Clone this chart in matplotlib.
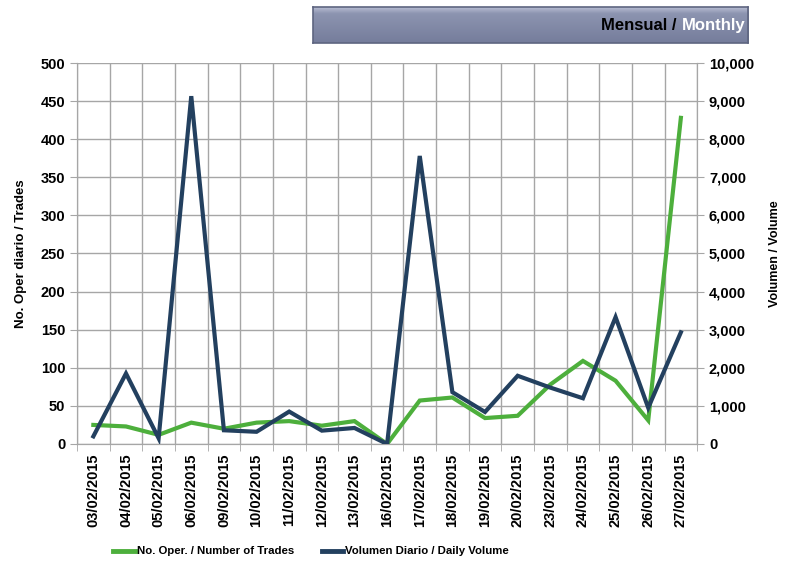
import numpy as np
import matplotlib
matplotlib.use('Agg')
import matplotlib.pyplot as plt
from matplotlib.lines import Line2D
from matplotlib.ticker import FuncFormatter, MultipleLocator

plt.rcParams['font.family'] = ['Liberation Sans', 'DejaVu Sans']

# Data
dates = ['03/02/2015', '04/02/2015', '05/02/2015', '06/02/2015', '09/02/2015',
         '10/02/2015', '11/02/2015', '12/02/2015', '13/02/2015', '16/02/2015',
         '17/02/2015', '18/02/2015', '19/02/2015', '20/02/2015', '23/02/2015',
         '24/02/2015', '25/02/2015', '26/02/2015', '27/02/2015']
trades = [25, 23, 12, 28, 20, 28, 30, 24, 30, 0,
          57, 61, 34, 37, 78, 109, 83, 31, 428]
volume = [200, 1850, 150, 9130, 360, 320, 850, 350, 420, 0,
          7560, 1360, 840, 1790, 1480, 1200, 3330, 950, 2930]
series_names = ['No. Oper. / Number of Trades', 'Volumen Diario / Daily Volume']

green = '#4DAF3C'
navy = '#23405F'
grid_col = '#A6A6A6'

fig = plt.figure(figsize=(7.86, 5.61), dpi=100)
ax = fig.add_axes([0.098, 0.2086, 0.789, 0.6791])
ax2 = ax.twinx()

x = np.arange(len(dates))
ax.plot(x, trades, color=green, lw=3, solid_joinstyle='miter', zorder=3)
ax2.plot(x, volume, color=navy, lw=3, solid_joinstyle='miter', zorder=3)

ax.set_xlim(-0.5, len(dates) - 0.5)
ax.set_ylim(0, 500)
ax2.set_ylim(0, 10000)
ax.yaxis.set_major_locator(MultipleLocator(50))
ax2.yaxis.set_major_locator(MultipleLocator(1000))
ax2.yaxis.set_major_formatter(FuncFormatter(lambda v, p: f'{int(v):,}'))

ax.set_xticks(x)
ax.set_xticklabels(dates, rotation=90, fontsize=10.5, fontweight='bold')
ax.set_xticks(np.arange(-0.5, len(dates)), minor=True)
ax.tick_params(axis='x', which='major', length=0, pad=7)
ax.tick_params(axis='x', which='minor', length=5, color=grid_col)
ax.tick_params(axis='y', length=5, color=grid_col, labelsize=10.5)
ax2.tick_params(axis='y', length=5, color=grid_col, labelsize=10.5)
for lab in ax.get_yticklabels() + ax2.get_yticklabels():
    lab.set_fontweight('bold')

ax.grid(True, which='major', axis='y', color=grid_col, lw=1)
ax.grid(True, which='minor', axis='x', color=grid_col, lw=1)
ax.set_axisbelow(True)
for a in (ax, ax2):
    for s in a.spines.values():
        s.set_color(grid_col)
    a.spines['top'].set_visible(False)

ax.set_ylabel('No. Oper diario / Trades', fontsize=9.5, fontweight='bold', labelpad=10)
ax2.set_ylabel('Volumen / Volume', fontsize=9, fontweight='bold', labelpad=11)

# Legend at the bottom, placed by hand to match the narrow font spacing
W, H = 786, 561
leg_y = 1 - 551 / H
for (hx0, hx1, tx), col, name in zip([(113, 135, 137), (322, 343, 345)],
                                     [green, navy], series_names):
    fig.add_artist(Line2D([hx0 / W, hx1 / W], [leg_y, leg_y], color=col, lw=3.5,
                          transform=fig.transFigure))
    fig.text(tx / W, leg_y, name, fontsize=8.2, fontweight='bold',
             ha='left', va='center')

# Header banner
bx = fig.add_axes([0.398, 0.923, 0.554, 0.065])
top = np.array([0.74, 0.76, 0.84])
mid = np.array([0.55, 0.58, 0.69])
bot = np.array([0.46, 0.49, 0.61])
rows = []
for g in np.linspace(0, 1, 50):
    if g < 0.2:
        c = top + (mid - top) * (g / 0.2)
    else:
        c = mid + (bot - mid) * ((g - 0.2) / 0.8)
    rows.append(c)
bx.imshow(np.array(rows)[:, None, :], aspect='auto', extent=(0, 1, 0, 1))
bx.set_xlim(0, 1)
bx.set_ylim(0, 1)
bx.set_xticks([])
bx.set_yticks([])
for s in bx.spines.values():
    s.set_color('#5E6580')
    s.set_linewidth(1.2)

t2 = bx.text(0.993, 0.48, 'Monthly', color='white', fontsize=12, fontweight='bold',
             ha='right', va='center')
fig.canvas.draw()
ext = t2.get_window_extent()
x0 = bx.transAxes.inverted().transform((ext.x0, ext.y0))[0]
bx.text(x0, 0.48, 'Mensual / ', color='black', fontsize=12, fontweight='bold',
        ha='right', va='center')

fig.savefig('out.png', dpi=100)
